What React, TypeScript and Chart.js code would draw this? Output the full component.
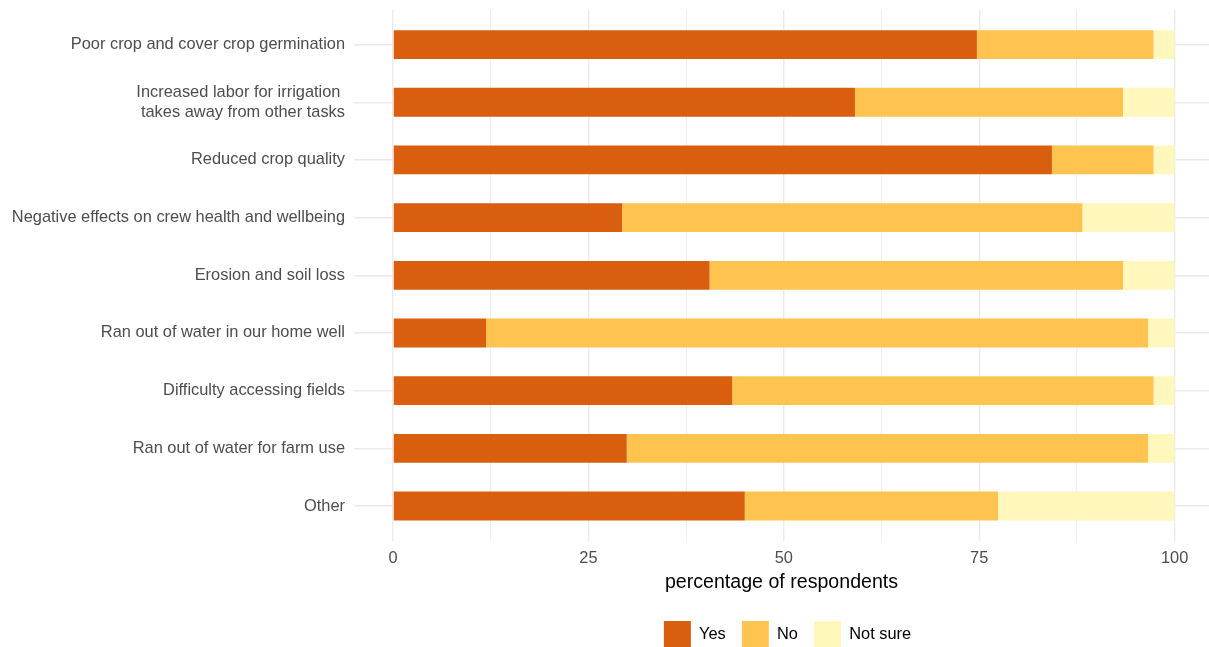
import React, { useEffect, useRef } from "react";
import { Chart, registerables } from "chart.js";

Chart.register(...registerables);

const categories: (string | string[])[] = [
  "Poor crop and cover crop germination",
  ["Increased labor for irrigation ", "takes away from other tasks"],
  "Reduced crop quality",
  "Negative effects on crew health and wellbeing",
  "Erosion and soil loss",
  "Ran out of water in our home well",
  "Difficulty accessing fields",
  "Ran out of water for farm use",
  "Other",
];

const yesValues = [74.7, 59.1, 84.3, 29.3, 40.5, 11.9, 43.4, 29.9, 45.0];
const noValues = [22.6, 34.3, 13.0, 58.9, 52.9, 84.7, 53.9, 66.7, 32.4];
const notSureValues = [2.7, 6.6, 2.7, 11.8, 6.6, 3.4, 2.7, 3.4, 22.6];

const seriesNames = ["Yes", "No", "Not sure"];
const seriesColors = ["#D95F0E", "#FEC44F", "#FFF7BC"];

const xTickValues = [0, 25, 50, 75, 100];
const xGridValues = [0, 12.5, 25, 37.5, 50, 62.5, 75, 87.5, 100];
const xAxisTitle = "percentage of respondents";

const FONT = "'Liberation Sans', Arial, sans-serif";

export default function App() {
  const ref = useRef<HTMLCanvasElement>(null);

  useEffect(() => {
    const canvas = ref.current;
    if (!canvas) return;

    const legendToPanel = {
      id: "legendToPanel",
      afterLayout(chart: any) {
        const lg = chart.legend;
        const ca = chart.chartArea;
        if (lg && ca) {
          lg.left = ca.left + 6;
          lg.right = ca.right + 6;
        }
      },
    };

    const seriesData = [yesValues, noValues, notSureValues];

    const chart = new Chart(canvas, {
      type: "bar",
      data: {
        labels: categories as any,
        datasets: seriesNames.map((name, i) => ({
          label: name,
          data: seriesData[i],
          backgroundColor: seriesColors[i],
          borderWidth: 0,
          barPercentage: 0.5,
          categoryPercentage: 1,
        })),
      },
      options: {
        indexAxis: "y",
        animation: false,
        responsive: false,
        devicePixelRatio: 1,
        layout: { padding: { top: 10, left: 0, right: 0, bottom: 0 } },
        plugins: {
          legend: {
            position: "bottom",
            labels: {
              boxWidth: 27,
              boxHeight: 27,
              padding: 16,
              color: "#000000",
              font: { family: FONT, size: 16.4 },
            },
          },
          tooltip: { enabled: false },
        },
        scales: {
          x: {
            type: "linear",
            stacked: true,
            bounds: "data",
            min: -5,
            max: 104.4,
            afterBuildTicks: (axis: any) => {
              axis.ticks = xGridValues.map((v) => ({ value: v }));
            },
            ticks: {
              autoSkip: false,
              maxRotation: 0,
              padding: 7.6,
              color: "#4D4D4D",
              font: { family: FONT, size: 16.4 },
              callback: (v: any) => (xTickValues.includes(Number(v)) ? String(v) : ""),
            },
            grid: {
              color: "#EBEBEB",
              drawTicks: false,
              lineWidth: (ctx: any) =>
                ctx.tick && xTickValues.includes(ctx.tick.value) ? 1.4 : 0.8,
            },
            border: { display: false },
            title: {
              display: true,
              text: xAxisTitle,
              color: "#000000",
              font: { family: FONT, size: 19.6 },
              padding: { top: -4.5, bottom: 10.5 },
            },
          },
          y: {
            type: "category",
            stacked: true,
            offset: true,
            afterBuildTicks: (axis: any) => {
              axis._startValue = axis.min - 0.6;
              axis._valueRange = axis.max - axis.min + 1.2;
            },
            afterFit: (axis: any) => {
              axis.width = 354;
              axis.paddingTop = 0;
              axis.paddingBottom = 0;
            },
            ticks: {
              autoSkip: false,
              padding: 9,
              color: "#4D4D4D",
              font: { family: FONT, size: 16.4 },
            },
            grid: {
              color: "#EBEBEB",
              lineWidth: 1.4,
              offset: false,
              drawTicks: false,
            },
            border: { display: false },
          },
        },
      } as any,
      plugins: [legendToPanel],
    });

    return () => chart.destroy();
  }, []);

  return (
    <div
      style={{
        position: "absolute",
        left: 0,
        top: 0,
        width: 1209,
        height: 647,
        overflow: "hidden",
        background: "#ffffff",
      }}
    >
      <canvas ref={ref} width={1209} height={658} style={{ display: "block" }} />
    </div>
  );
}
